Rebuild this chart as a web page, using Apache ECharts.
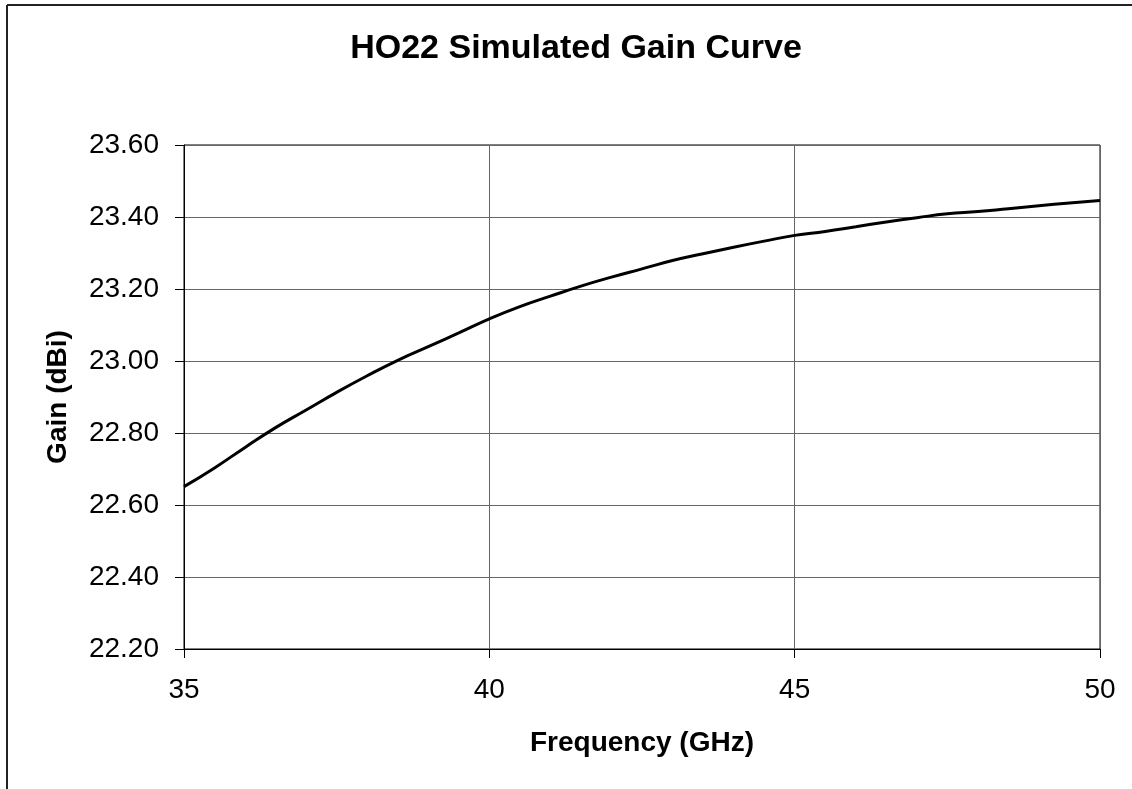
<!DOCTYPE html>
<html>
<head>
<meta charset="utf-8">
<script src="https://cdn.jsdelivr.net/npm/echarts@6/dist/echarts.min.js"></script>
<style>
  html, body { margin: 0; padding: 0; background: #fff; }
  #chart { width: 1132px; height: 789px; }
</style>
</head>
<body>
<div id="chart"></div>
<script>
// frequency (GHz) and simulated gain (dBi)
var freq = [35, 35.5, 36, 36.5, 37, 37.5, 38, 38.5, 39, 39.5, 40, 40.5, 41, 41.5, 42, 42.5,
  43, 43.5, 44, 44.5, 45, 45.5, 46, 46.5, 47, 47.5, 48, 48.5, 49, 49.5, 50];
var gain = [22.651, 22.703, 22.760, 22.815, 22.864, 22.913, 22.959, 23.002, 23.040, 23.078,
  23.117, 23.151, 23.180, 23.208, 23.233, 23.256, 23.279, 23.298, 23.316, 23.333,
  23.349, 23.360, 23.373, 23.386, 23.398, 23.409, 23.415, 23.423, 23.431, 23.439, 23.446];

var xTicks = [35, 40, 45, 50];
var yTicks = [22.2, 22.4, 22.6, 22.8, 23.0, 23.2, 23.4, 23.6];

var font = 'Liberation Sans, Arial, sans-serif';

var chart = echarts.init(document.getElementById('chart'));

var points = [];
for (var i = 0; i < freq.length; i++) points.push([freq[i], gain[i]]);

chart.setOption({
  backgroundColor: '#fff',
  animation: false,
  title: {
    text: 'HO22 Simulated Gain Curve',
    left: 571,
    top: 27,
    textAlign: 'center',
    textStyle: { fontFamily: font, fontSize: 34, fontWeight: 'bold', color: '#000' }
  },
  grid: {
    left: 184, top: 145, right: 32, bottom: 140,
    show: true, borderColor: '#000', borderWidth: 1
  },
  xAxis: {
    type: 'value',
    min: xTicks[0], max: xTicks[xTicks.length - 1], interval: 5,
    name: 'Frequency (GHz)',
    nameLocation: 'middle',
    nameGap: 80,
    nameTextStyle: { fontFamily: font, fontSize: 28, fontWeight: 'bold', color: '#000' },
    axisLine: { show: true, lineStyle: { color: '#000', width: 1 } },
    axisTick: { show: true, length: 9, lineStyle: { color: '#000' } },
    axisLabel: { margin: 27, fontFamily: font, fontSize: 28, color: '#000' },
    splitLine: { show: true, lineStyle: { color: '#666', width: 1 } }
  },
  yAxis: {
    type: 'value',
    min: yTicks[0], max: yTicks[yTicks.length - 1], interval: 0.2,
    name: 'Gain (dBi)',
    nameLocation: 'middle',
    nameGap: 112,
    nameTextStyle: { fontFamily: font, fontSize: 28, fontWeight: 'bold', color: '#000' },
    axisLine: { show: true, lineStyle: { color: '#000', width: 1 } },
    axisTick: { show: true, length: 9, lineStyle: { color: '#000' } },
    axisLabel: {
      margin: 25, fontFamily: font, fontSize: 28, color: '#000',
      formatter: function (v) { return v.toFixed(2); }
    },
    splitLine: { show: true, lineStyle: { color: '#666', width: 1 } }
  },
  series: [{
    type: 'line',
    data: points,
    showSymbol: false,
    smooth: true,
    lineStyle: { color: '#000', width: 3 }
  }],
  graphic: [
    { type: 'line', shape: { x1: 7, y1: 5, x2: 7, y2: 789 }, style: { stroke: '#222', lineWidth: 2 } },
    { type: 'line', shape: { x1: 7, y1: 5, x2: 1132, y2: 5 }, style: { stroke: '#222', lineWidth: 2 } }
  ]
});
</script>
</body>
</html>
